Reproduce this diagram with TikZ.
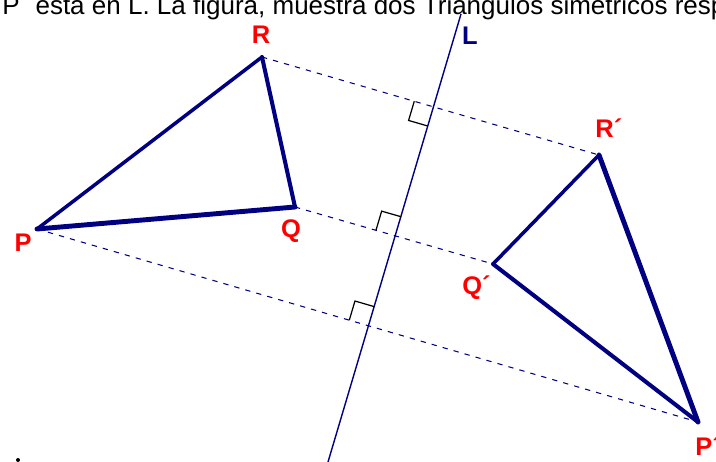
\documentclass[tikz,border=0pt]{standalone}
\usepackage{fontspec}
\setmainfont{Liberation Sans}
\usetikzlibrary{calc}
\definecolor{navy}{HTML}{000080}
\definecolor{vtxred}{HTML}{FF0000}
\tikzset{
  side/.style={navy,line cap=round,line join=round},
  proj/.style={navy,line width=0.6pt,dash pattern=on 3pt off 3.5pt},
  vlabel/.style={vtxred,font=\bfseries\fontsize{14.5}{16}\selectfont,inner sep=0pt,anchor=base},
  angmark/.style={black,line width=0.7pt},
}

\begin{document}
\begin{tikzpicture}[x=0.02cm,y=-0.02cm]
  \clip (0,0) rectangle (716,462);
  % header line, cut by the top edge
  \node[anchor=base west,inner sep=0pt,font=\fontsize{14.8}{16}\selectfont] (head) at (2,14.5)
    {P´ está en L. La figura, muestra dos Triángulos simétricos respecto};
  % vertices
  \coordinate (p) at (37,229);
  \coordinate (q) at (295,207);
  \coordinate (r) at (262,57);
  \coordinate (p2) at (698,422);
  \coordinate (q2) at (493,264);
  \coordinate (r2) at (599,155);
  % axis L
  \coordinate (lbot) at (328,462);
  \coordinate (ltop) at (461,14);
  \draw[navy,line width=0.8pt] (lbot) -- (ltop);
  % dashed joins
  \draw[proj] (r) -- (r2);
  \draw[proj] (q) -- (q2);
  \draw[proj] (p) -- (p2);
  \coordinate (ir) at (intersection of r--r2 and lbot--ltop);
  \coordinate (iq) at (intersection of q--q2 and lbot--ltop);
  \coordinate (ip) at (intersection of p--p2 and lbot--ltop);
  \foreach \i/\l/\d in {ir/lbot/r, iq/ltop/q, ip/ltop/p}{
    \coordinate (ma) at ($(\i)!0.4cm!(\d)$);
    \coordinate (mb) at ($(\i)!0.4cm!(\l)$);
    \draw[angmark] (ma) -- ($(ma)+(mb)-(\i)$) -- (mb);
  }
  % triangles
  \draw[side,line width=2pt] (p) -- (r);
  \draw[side,line width=2.3pt] (r) -- (q);
  \draw[side,line width=2.8pt] (q) -- (p);
  \draw[side,line width=2pt] (q2) -- (r2);
  \draw[side,line width=2.8pt] (r2) -- (p2);
  \draw[side,line width=2.3pt] (p2) -- (q2);
  % labels
  \node[vlabel] (lr) at (261,44) {R};
  \node[vlabel] (lq) at (291,238) {Q};
  \node[vlabel] (lp) at (23,252) {P};
  \node[vlabel,anchor=base west] (lr2) at (595,138) {R´};
  \node[vlabel,anchor=base west] (lq2) at (462,295) {Q´};
  \node[vlabel,anchor=base west] (lp2) at (695,455) {P´};
  \node[vlabel,navy] (ll) at (470,45) {L};
  \fill (18,460) circle (2);
\end{tikzpicture}
\end{document}
